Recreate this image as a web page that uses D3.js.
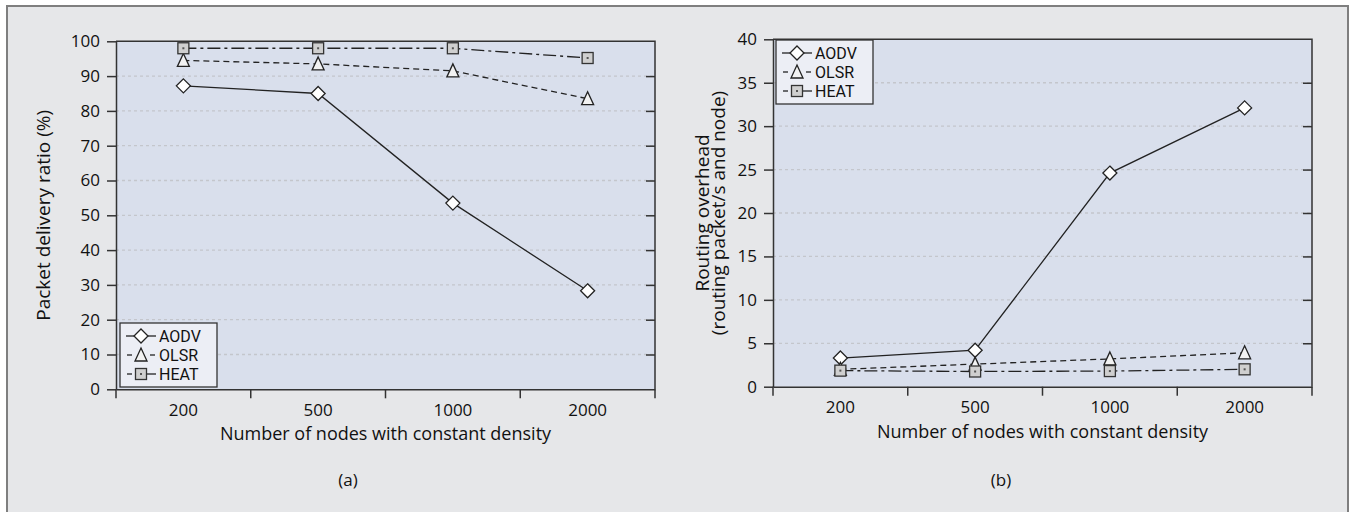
<!DOCTYPE html>
<meta charset="utf-8">
<script src="https://d3js.org/d3.v7.min.js"></script>
<style>
  body { margin: 0; background: #fff; }
  text { font-family: "Open Sans", "Noto Sans", sans-serif; fill: #111; }
</style>
<div id="chart"></div>
<script>
// data
var nodes = ["200", "500", "1000", "2000"];
var series = ["AODV", "OLSR", "HEAT"];

// (a) packet delivery ratio (%)
var pdrAODV = [87.2, 85.0, 53.5, 28.3];
var pdrOLSR = [94.5, 93.5, 91.5, 83.5];
var pdrHEAT = [98.0, 98.0, 98.0, 95.2];
var pdrTicks = [0, 10, 20, 30, 40, 50, 60, 70, 80, 90, 100];

// (b) routing overhead
var rohAODV = [3.3, 4.2, 24.6, 32.1];
var rohOLSR = [2.0, 2.6, 3.2, 3.9];
var rohHEAT = [1.85, 1.75, 1.8, 2.0];
var rohTicks = [0, 5, 10, 15, 20, 25, 30, 35, 40];

var W = 1351, H = 512;
var svg = d3.select("#chart").append("svg")
    .attr("width", W).attr("height", H);

// outer frame
svg.append("rect")
    .attr("x", 7).attr("y", 6).attr("width", 1341).attr("height", 512)
    .attr("fill", "#e6e7e9").attr("stroke", "#7f7f7f").attr("stroke-width", 2);

var dashes = { AODV: null, OLSR: "6,4", HEAT: "13,4,3,4" };
// legend line pieces either side of the marker
var legendSegs = {
  AODV: [[6, 36]],
  OLSR: [[7, 12], [30, 35]],
  HEAT: [[7, 12], [27, 36]]
};

function drawMarker(g, type, cx, cy) {
  if (type == "AODV") {
    var r = 7;
    g.append("path")
      .attr("d", "M" + cx + "," + (cy - r) + "L" + (cx + r) + "," + cy + "L" + cx + "," + (cy + r) + "L" + (cx - r) + "," + cy + "Z")
      .attr("fill", "#fff").attr("stroke", "#222").attr("stroke-width", 1.3);
  } else if (type == "OLSR") {
    g.append("path")
      .attr("d", "M" + cx + "," + (cy - 7) + "L" + (cx + 6) + "," + (cy + 6) + "L" + (cx - 6) + "," + (cy + 6) + "Z")
      .attr("fill", "#f2f2f2").attr("stroke", "#222").attr("stroke-width", 1.3);
  } else {
    g.append("rect")
      .attr("x", cx - 5.5).attr("y", cy - 5.5).attr("width", 11).attr("height", 11)
      .attr("fill", "#cfcfcf").attr("stroke", "#333").attr("stroke-width", 1.3);
    g.append("rect")
      .attr("x", cx - 1).attr("y", cy - 1).attr("width", 2).attr("height", 2)
      .attr("fill", "#555");
  }
}

function panel(cfg) {
  var x = d3.scaleBand().domain(nodes).range(cfg.xr).padding(0);
  var y = d3.scaleLinear().domain([0, cfg.ticks[cfg.ticks.length - 1]]).range(cfg.yr);
  var g = svg.append("g");
  var x0 = cfg.xr[0], x1 = cfg.xr[1], yb = cfg.yr[0], yt = cfg.yr[1];

  g.append("rect")
    .attr("x", x0).attr("y", yt).attr("width", x1 - x0).attr("height", yb - yt)
    .attr("fill", "#d9dfec");

  // dotted grid
  g.selectAll(".grid").data(cfg.ticks.slice(1, -1)).enter().append("line")
    .attr("x1", x0).attr("x2", x1)
    .attr("y1", function(d) { return y(d); }).attr("y2", function(d) { return y(d); })
    .attr("stroke", "#c4c6cc").attr("stroke-width", 1.3).attr("stroke-dasharray", "3,3");

  // frame top / right
  g.append("path")
    .attr("d", "M" + x0 + "," + yt + "H" + x1 + "V" + yb)
    .attr("fill", "none").attr("stroke", "#333").attr("stroke-width", 1.5);

  // left axis
  var ya = g.append("g").attr("transform", "translate(" + x0 + ",0)")
    .call(d3.axisLeft(y).tickValues(cfg.ticks).tickSize(9).tickPadding(7).tickSizeOuter(0));
  // right axis, ticks pointing in
  var yr = g.append("g").attr("transform", "translate(" + x1 + ",0)")
    .call(d3.axisLeft(y).tickValues(cfg.ticks.slice(1, -1)).tickSize(9).tickFormat("").tickSizeOuter(0));
  yr.select(".domain").remove();

  // bottom axis: labels at band centres, ticks at band edges
  var xa = g.append("g").attr("transform", "translate(0," + yb + ")")
    .call(d3.axisBottom(x).tickSize(0).tickPadding(14.5).tickSizeOuter(0));
  xa.selectAll(".tick line").remove();
  var edges = nodes.map(function(d) { return x(d); }).concat([x(nodes[nodes.length - 1]) + x.bandwidth()]);
  xa.selectAll(".edge").data(edges).enter().append("line")
    .attr("x1", function(d) { return d; }).attr("x2", function(d) { return d; })
    .attr("y1", 0).attr("y2", 9).attr("stroke", "#333").attr("stroke-width", 1.5);

  [ya, yr, xa].forEach(function(a) {
    a.select(".domain").attr("stroke", "#333").attr("stroke-width", 1.5);
    a.selectAll(".tick line").attr("stroke", "#333").attr("stroke-width", 1.5);
    a.selectAll("text").attr("font-size", 17).attr("fill", "#111")
      .style("font-family", "'Open Sans', sans-serif");
  });

  g.append("text")
    .attr("x", (x0 + x1) / 2).attr("y", yb + 51)
    .attr("text-anchor", "middle").attr("font-size", 18)
    .text("Number of nodes with constant density");

  var yt_ = g.append("text")
    .attr("transform", "translate(" + cfg.titleX + "," + ((yb + yt) / 2) + ") rotate(-90)")
    .attr("text-anchor", "middle").attr("font-size", 19);
  cfg.title.forEach(function(t, i) {
    yt_.append("tspan").attr("x", 0).attr("dy", i == 0 ? 0 : 16).text(t);
  });

  g.append("text")
    .attr("x", cfg.capX).attr("y", 486)
    .attr("text-anchor", "middle").attr("font-size", 17)
    .text(cfg.caption);

  // series
  var line = d3.line()
    .x(function(d, i) { return x(nodes[i]) + x.bandwidth() / 2; })
    .y(function(d) { return y(d); });

  series.forEach(function(s, k) {
    var vals = cfg.data[k];
    g.append("path").datum(vals)
      .attr("d", line)
      .attr("fill", "none").attr("stroke", "#222").attr("stroke-width", 1.3)
      .attr("stroke-dasharray", dashes[s]);
  });
  series.forEach(function(s, k) {
    cfg.data[k].forEach(function(v, i) {
      drawMarker(g, s, x(nodes[i]) + x.bandwidth() / 2, y(v));
    });
  });

  // legend
  var lg = g.append("g").attr("transform", "translate(" + cfg.leg[0] + "," + cfg.leg[1] + ")");
  lg.append("rect").attr("width", 97).attr("height", 64)
    .attr("fill", "#eceef5").attr("stroke", "#333").attr("stroke-width", 1.3);
  series.forEach(function(s, k) {
    var cy = 13 + k * 19;
    legendSegs[s].forEach(function(sg) {
      lg.append("line").attr("x1", sg[0]).attr("x2", sg[1]).attr("y1", cy).attr("y2", cy)
        .attr("stroke", "#222").attr("stroke-width", 1.3);
    });
    drawMarker(lg, s, 21, cy);
    lg.append("text").attr("x", 39).attr("y", cy + 6)
      .attr("font-size", 16).style("font-family", "Roboto, sans-serif").text(s);
  });
}

panel({
  xr: [116, 655], yr: [389.3, 41.3], ticks: pdrTicks,
  data: [pdrAODV, pdrOLSR, pdrHEAT],
  title: ["Packet delivery ratio (%)"], titleX: 50,
  caption: "(a)", capX: 348, leg: [120, 323]
});

panel({
  xr: [773, 1312], yr: [386.7, 39.3], ticks: rohTicks,
  data: [rohAODV, rohOLSR, rohHEAT],
  title: ["Routing overhead", "(routing packet/s and node)"], titleX: 709,
  caption: "(b)", capX: 1001, leg: [776, 40]
});
</script>
